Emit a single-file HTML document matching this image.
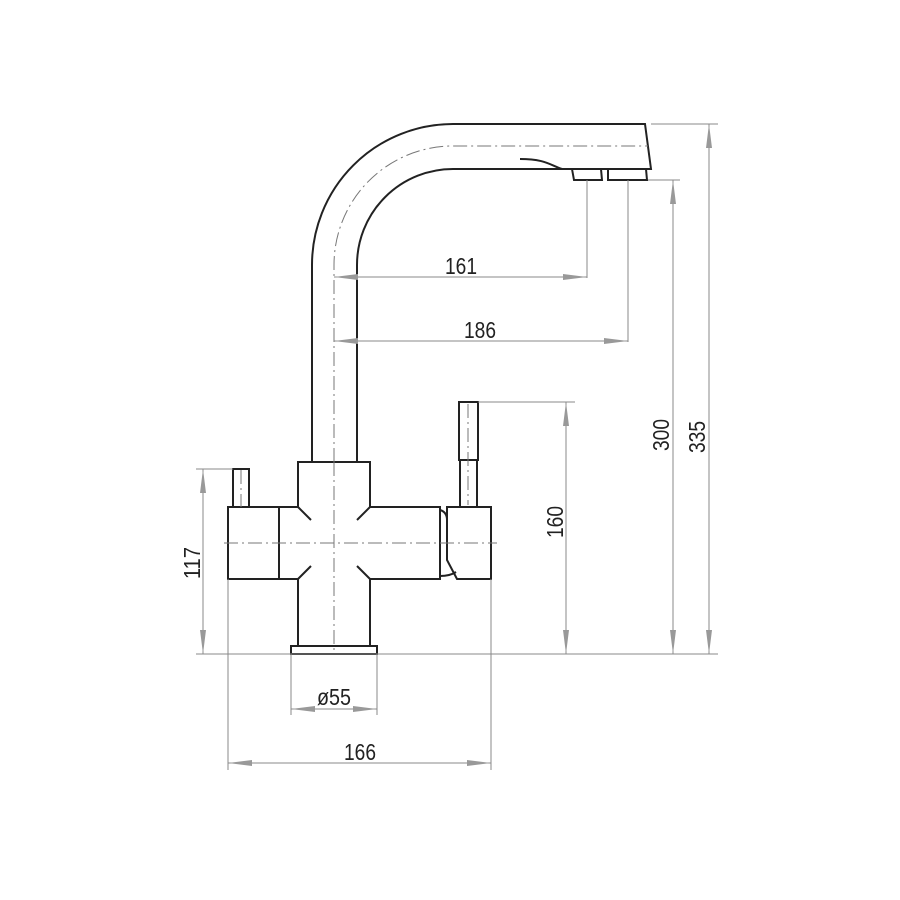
<!DOCTYPE html>
<html><head><meta charset="utf-8"><style>html,body{margin:0;padding:0;background:#fff}svg{display:block}</style></head>
<body>
<svg width="900" height="900" viewBox="0 0 900 900" xmlns="http://www.w3.org/2000/svg">
<defs>
<marker id="a" viewBox="0 0 24 6" refX="24" refY="3" markerWidth="24" markerHeight="6" markerUnits="userSpaceOnUse" orient="auto-start-reverse"><path d="M0,0 L24,3 L0,6 Z" fill="#999"/></marker>
</defs>
<g fill="none" stroke="#222" stroke-width="2">
<!-- spout -->
<path d="M312,462 L312,265 A141,141 0 0 1 453,124 L645,124 L651,169 L562,169"/>
<path d="M357,462 L357,265 A96,96 0 0 1 453,169 L562,169"/>
<path d="M520,159 C545,159 550,165 562,169"/>
<path d="M572,169 L574,180 L602,180 L601,169 M608,169 L608,180 L647,180 L646,169"/>
<!-- body -->
<path d="M298,507 L298,462 L370,462 L370,507 M298,579 L298,646 M370,579 L370,646"/>
<rect x="291" y="646" width="86" height="8"/>
<rect x="228" y="507" width="51" height="72"/>
<path d="M279,507 L298,507 M279,579 L298,579 M370,507 L440,507 L440,579 L370,579"/>
<path d="M298,507 L311,520 M370,507 L357,520 M298,579 L311,566 M370,579 L357,566"/>
<rect x="233" y="469" width="16" height="38"/>
<path d="M447,507 L491,507 L491,579 L457,579 L447,560 Z"/>
<path d="M440,510 Q447,512 447,520 M440,576 Q450,576 456,572"/>
<rect x="459" y="402" width="19" height="58"/>
<rect x="460" y="460" width="17" height="47"/>
</g>
<!-- center lines -->
<g fill="none" stroke="#777" stroke-width="1" stroke-dasharray="14,4,2,4">
<path d="M334,462 L334,265 A119,119 0 0 1 453,146 L648,146"/>
<path d="M334,462 L334,654"/>
<path d="M224,543 L497,543"/>
<path d="M241,470 L241,507"/>
<path d="M468,404 L468,505"/>
</g>
<!-- dimension/extension lines -->
<g fill="none" stroke="#888" stroke-width="1">
<path d="M196,654 L718,654"/>
<path d="M651,124 L718,124 M648,180 L680,180 M478,402 L575,402 M196,469 L233,469"/>
<path d="M587,180 L587,278 M628,180 L628,342"/>
<path d="M291,654 L291,715 M377,654 L377,715"/>
<path d="M228,579 L228,770 M491,579 L491,770"/>
<path d="M334,277 L587,277" marker-start="url(#a)" marker-end="url(#a)"/>
<path d="M334,341 L628,341" marker-start="url(#a)" marker-end="url(#a)"/>
<path d="M673,180 L673,654" marker-start="url(#a)" marker-end="url(#a)"/>
<path d="M709,124 L709,654" marker-start="url(#a)" marker-end="url(#a)"/>
<path d="M566,402 L566,654" marker-start="url(#a)" marker-end="url(#a)"/>
<path d="M203,469 L203,654" marker-start="url(#a)" marker-end="url(#a)"/>
<path d="M291,709 L377,709" marker-start="url(#a)" marker-end="url(#a)"/>
<path d="M228,763 L491,763" marker-start="url(#a)" marker-end="url(#a)"/>
</g>
<g font-family="Liberation Sans, sans-serif" font-size="23" fill="#222" text-anchor="middle">
<text x="461" y="274" textLength="32" lengthAdjust="spacingAndGlyphs">161</text>
<text x="480" y="338" textLength="32" lengthAdjust="spacingAndGlyphs">186</text>
<text x="334" y="705" textLength="34" lengthAdjust="spacingAndGlyphs">ø55</text>
<text x="360" y="760" textLength="32" lengthAdjust="spacingAndGlyphs">166</text>
<text transform="translate(563,522) rotate(-90)" textLength="32" lengthAdjust="spacingAndGlyphs">160</text>
<text transform="translate(669,435) rotate(-90)" textLength="32" lengthAdjust="spacingAndGlyphs">300</text>
<text transform="translate(705,437) rotate(-90)" textLength="32" lengthAdjust="spacingAndGlyphs">335</text>
<text transform="translate(200,563) rotate(-90)" textLength="32" lengthAdjust="spacingAndGlyphs">117</text>
</g>
</svg>
</body></html>
